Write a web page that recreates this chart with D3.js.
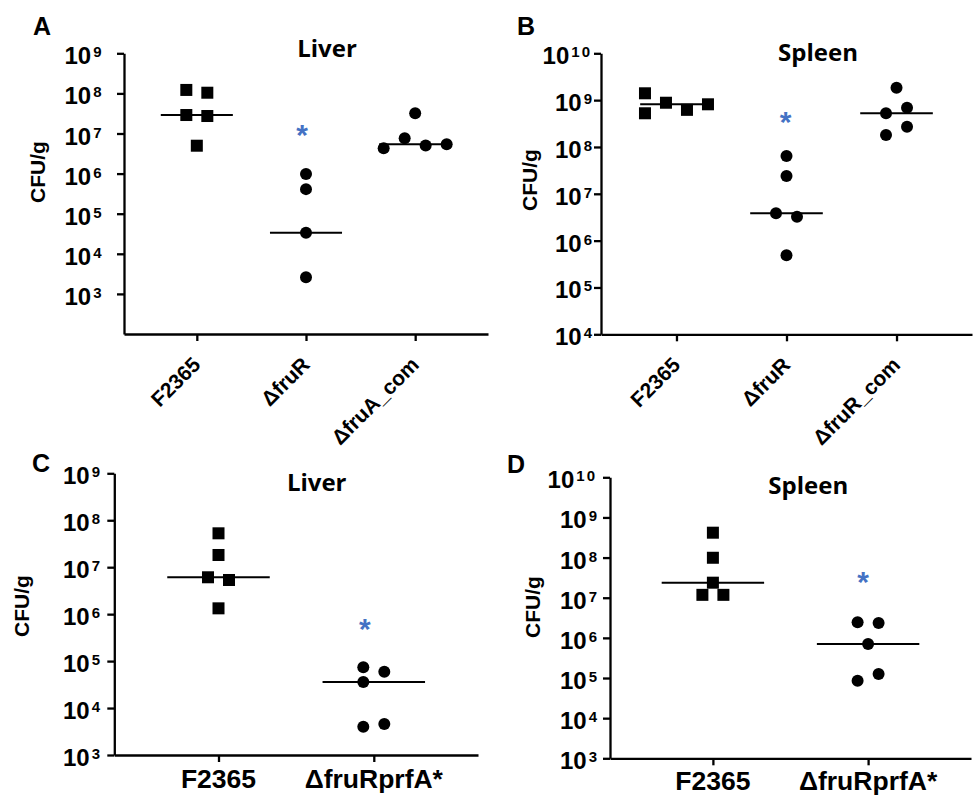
<!DOCTYPE html>
<html>
<head>
<meta charset="utf-8">
<script src="https://cdn.jsdelivr.net/npm/d3@7"></script>
<style>
  body { margin: 0; background: #fff; }
  svg { display: block; }
</style>
</head>
<body>
<svg id="fig" width="974" height="797"></svg>
<script>
// ---- data: CFU per gram of organ, one array per strain group ----
const panelIds = ["A", "B", "C", "D"];
const organs = ["Liver", "Spleen", "Liver", "Spleen"];
const yAxisTitle = "CFU/g";

const strainsA = ["F2365", "ΔfruR", "ΔfruA_com"];
const strainsB = ["F2365", "ΔfruR", "ΔfruR_com"];
const strainsCD = ["F2365", "ΔfruRprfA*"];

// log-axis ranges and the decade exponents that get a labelled tick
const yDomainA = [1e2, 1e9];
const yDomainB = [1e4, 1e10];
const yDomainC = [1e3, 1e9];
const yDomainD = [1e3, 1e10];
const tickExpA = [3, 4, 5, 6, 7, 8, 9];
const tickExpB = [4, 5, 6, 7, 8, 9, 10];
const tickExpC = [3, 4, 5, 6, 7, 8, 9];
const tickExpD = [3, 4, 5, 6, 7, 8, 9, 10];

// A: liver
const liverA_F2365 = [1.22e8, 1.04e8, 2.89e7, 2.73e7, 4.96e6];
const liverA_fruR = [9.8e5, 4.1e5, 3.36e4, 2.6e3];
const liverA_fruAcom = [3.2e7, 4.3e6, 7.6e6, 5.0e6, 5.4e6];
const medianA = [2.89e7, 3.36e4, 5.4e6];
const signifA = [null, 1.4e7, null];

// B: spleen
const spleenB_F2365 = [1.40e9, 5.24e8, 8.8e8, 6.2e8, 8.15e8];
const spleenB_fruR = [6.4e7, 2.4e7, 3.83e6, 3.24e6, 4.9e5];
const spleenB_fruRcom = [1.84e9, 5.24e8, 6.9e8, 1.8e8, 2.71e8];
const medianB = [8.15e8, 3.83e6, 5.24e8];
const signifB = [null, 4.8e8, null];

// C: liver
const liverC_F2365 = [5.27e7, 1.82e7, 6.1e6, 5.34e6, 1.33e6];
const liverC_prfA = [7.4e4, 5.9e4, 3.6e4, 4.0e3, 4.57e3];
const medianC = [6.1e6, 3.6e4];
const signifC = [null, 6.9e5];

// D: spleen
const spleenD_F2365 = [4.17e8, 9.9e7, 2.37e7, 1.18e7, 1.18e7];
const spleenD_prfA = [2.44e6, 2.35e6, 7.0e5, 8.6e4, 1.26e5];
const medianD = [2.37e7, 7.0e5];
const signifD = [null, 3.7e7];

// ---- page layout of the four panels ----
const layouts = [
  { x0: 124, x1: 488, yTop: 53.3, yBot: 334, pad: 0.667, labelRight: 101.5,
    letterX: 33, letterY: 35, titleX: 327, titleY: 56.7, ylabX: 45, ylabY: 172,
    rotateX: true, starDx: -4 },
  { x0: 601, x1: 972, yTop: 53.3, yBot: 334.3, pad: 0.686, labelRight: 592,
    letterX: 517, letterY: 35, titleX: 818, titleY: 60.5, ylabX: 537, ylabY: 180,
    rotateX: true, starDx: -1 },
  { x0: 114.3, x1: 478, yTop: 473.3, yBot: 755, pad: 0.671, labelRight: 100,
    letterX: 32, letterY: 472, titleX: 316.7, titleY: 490.7, ylabX: 28.5, ylabY: 606,
    rotateX: false, xLabelDy: 33.3, starDx: -9 },
  { x0: 610, x1: 971, yTop: 477.3, yBot: 758.3, pad: 0.663, labelRight: 597,
    letterX: 507, letterY: 473, titleX: 808.3, titleY: 494.4, ylabX: 540, ylabY: 607,
    rotateX: false, xLabelDy: 31.7, starDx: -5 }
];

const panels = [
  { strains: strainsA, yDomain: yDomainA, tickExp: tickExpA,
    groups: [liverA_F2365, liverA_fruR, liverA_fruAcom], medians: medianA, signif: signifA },
  { strains: strainsB, yDomain: yDomainB, tickExp: tickExpB,
    groups: [spleenB_F2365, spleenB_fruR, spleenB_fruRcom], medians: medianB, signif: signifB },
  { strains: strainsCD, yDomain: yDomainC, tickExp: tickExpC,
    groups: [liverC_F2365, liverC_prfA], medians: medianC, signif: signifC },
  { strains: strainsCD, yDomain: yDomainD, tickExp: tickExpD,
    groups: [spleenD_F2365, spleenD_prfA], medians: medianD, signif: signifD }
];

const FONT = "'Liberation Sans', Arial, Helvetica, sans-serif";
const TITLE_FONT = "'Open Sans', 'Liberation Sans', sans-serif";
const MARK = 12;      // marker size
const COL = 21;       // horizontal spacing of side-by-side replicates
const BLUE = "#4472c4";

// Column-scatter placement: each replicate takes the first free lane that
// does not overlap an earlier one, then every cluster of touching points
// is centred on the category.
function scatterLayout(values, y) {
  const pts = values.map((v, i) => ({ v, i, y: y(v), lane: 0, dx: 0 }));
  const placed = [];
  pts.forEach(p => {
    let lane = 0;
    while (placed.some(q => q.lane === lane && Math.abs(q.y - p.y) < MARK - 1)) lane++;
    p.lane = lane;
    placed.push(p);
  });
  const sorted = pts.slice().sort((a, b) => a.y - b.y);
  const clusters = [];
  let cur = [sorted[0]];
  for (let k = 1; k < sorted.length; k++) {
    if (sorted[k].y - sorted[k - 1].y < MARK - 1) cur.push(sorted[k]);
    else { clusters.push(cur); cur = [sorted[k]]; }
  }
  clusters.push(cur);
  clusters.forEach(cl => {
    const mid = (d3.min(cl, p => p.lane) + d3.max(cl, p => p.lane)) / 2;
    cl.forEach(p => { p.dx = (p.lane - mid) * COL; });
  });
  return pts;
}

const svg = d3.select("#fig");

panels.forEach((p, pi) => {
  const L = layouts[pi];
  const g = svg.append("g").attr("class", "panel-" + panelIds[pi]);

  const y = d3.scaleLog().domain(p.yDomain).range([L.yBot, L.yTop]);
  const x = d3.scalePoint().domain(p.strains).range([L.x0, L.x1]).padding(L.pad);
  const step = x.step();

  // axes
  const yAxis = d3.axisLeft(y)
    .tickValues(p.tickExp.map(e => Math.pow(10, e)))
    .tickSize(7).tickSizeOuter(0).tickFormat(() => "");
  g.append("g").attr("transform", `translate(${L.x0},0)`).call(yAxis)
    .call(s => s.selectAll("path, line").attr("stroke", "#000").attr("stroke-width", 2.3));

  const xAxis = d3.axisBottom(x).tickSize(7).tickSizeOuter(0).tickFormat(() => "");
  g.append("g").attr("transform", `translate(0,${L.yBot})`).call(xAxis)
    .call(s => s.selectAll("path, line").attr("stroke", "#000").attr("stroke-width", 2.3));

  // y tick labels: 10 with a raised exponent
  const yl = g.append("g").selectAll("text").data(p.tickExp).join("text")
    .attr("x", L.labelRight)
    .attr("y", e => y(Math.pow(10, e)) + 11)
    .attr("text-anchor", "end")
    .attr("font-family", FONT).attr("font-weight", "bold").attr("font-size", 24)
    .attr("fill", "#000");
  yl.append("tspan").text("10");
  yl.append("tspan").attr("dx", 2).attr("dy", -7).attr("font-size", 15)
    .attr("letter-spacing", e => e >= 10 ? 2 : 0).text(e => e);

  // category labels
  const xl = g.append("g").selectAll("text").data(p.strains).join("text")
    .attr("font-family", FONT).attr("font-weight", "bold").attr("fill", "#000")
    .text(d => d);
  if (L.rotateX) {
    xl.attr("transform", d => `translate(${x(d) + 5},${L.yBot + 32}) rotate(-45)`)
      .attr("text-anchor", "end").attr("font-size", 21);
  } else {
    xl.attr("x", d => x(d)).attr("y", L.yBot + L.xLabelDy)
      .attr("text-anchor", "middle").attr("font-size", 26.5);
  }

  // axis title, panel title, panel letter
  g.append("text")
    .attr("transform", `translate(${L.ylabX},${L.ylabY}) rotate(-90)`)
    .attr("text-anchor", "middle")
    .attr("font-family", FONT).attr("font-weight", "bold").attr("font-size", 21)
    .text(yAxisTitle);
  g.append("text")
    .attr("x", L.titleX).attr("y", L.titleY).attr("text-anchor", "middle")
    .attr("font-family", TITLE_FONT).attr("font-weight", "bold").attr("font-size", 24)
    .text(organs[pi]);
  g.append("text")
    .attr("x", L.letterX).attr("y", L.letterY)
    .attr("font-family", FONT).attr("font-weight", "bold").attr("font-size", 25)
    .text(panelIds[pi]);

  // replicates, medians, significance marks
  p.groups.forEach((vals, gi) => {
    const cat = p.strains[gi];
    const cx = x(cat);
    const pts = scatterLayout(vals, y);
    const marks = g.append("g");
    if (gi === 0) {
      marks.selectAll("rect").data(pts).join("rect")
        .attr("x", d => cx + d.dx - MARK / 2).attr("y", d => d.y - MARK / 2)
        .attr("width", MARK).attr("height", MARK).attr("fill", "#000");
    } else {
      marks.selectAll("circle").data(pts).join("circle")
        .attr("cx", d => cx + d.dx).attr("cy", d => d.y)
        .attr("r", MARK / 2).attr("fill", "#000");
    }
    g.append("line")
      .attr("x1", cx - step * 0.33).attr("x2", cx + step * 0.33)
      .attr("y1", y(p.medians[gi])).attr("y2", y(p.medians[gi]))
      .attr("stroke", "#000").attr("stroke-width", 2);
    if (p.signif[gi] != null) {
      g.append("text")
        .attr("x", cx + L.starDx).attr("y", y(p.signif[gi]) + 17)
        .attr("text-anchor", "middle")
        .attr("font-family", FONT).attr("font-weight", "bold").attr("font-size", 30)
        .attr("fill", BLUE)
        .text("*");
    }
  });
});
</script>
</body>
</html>
